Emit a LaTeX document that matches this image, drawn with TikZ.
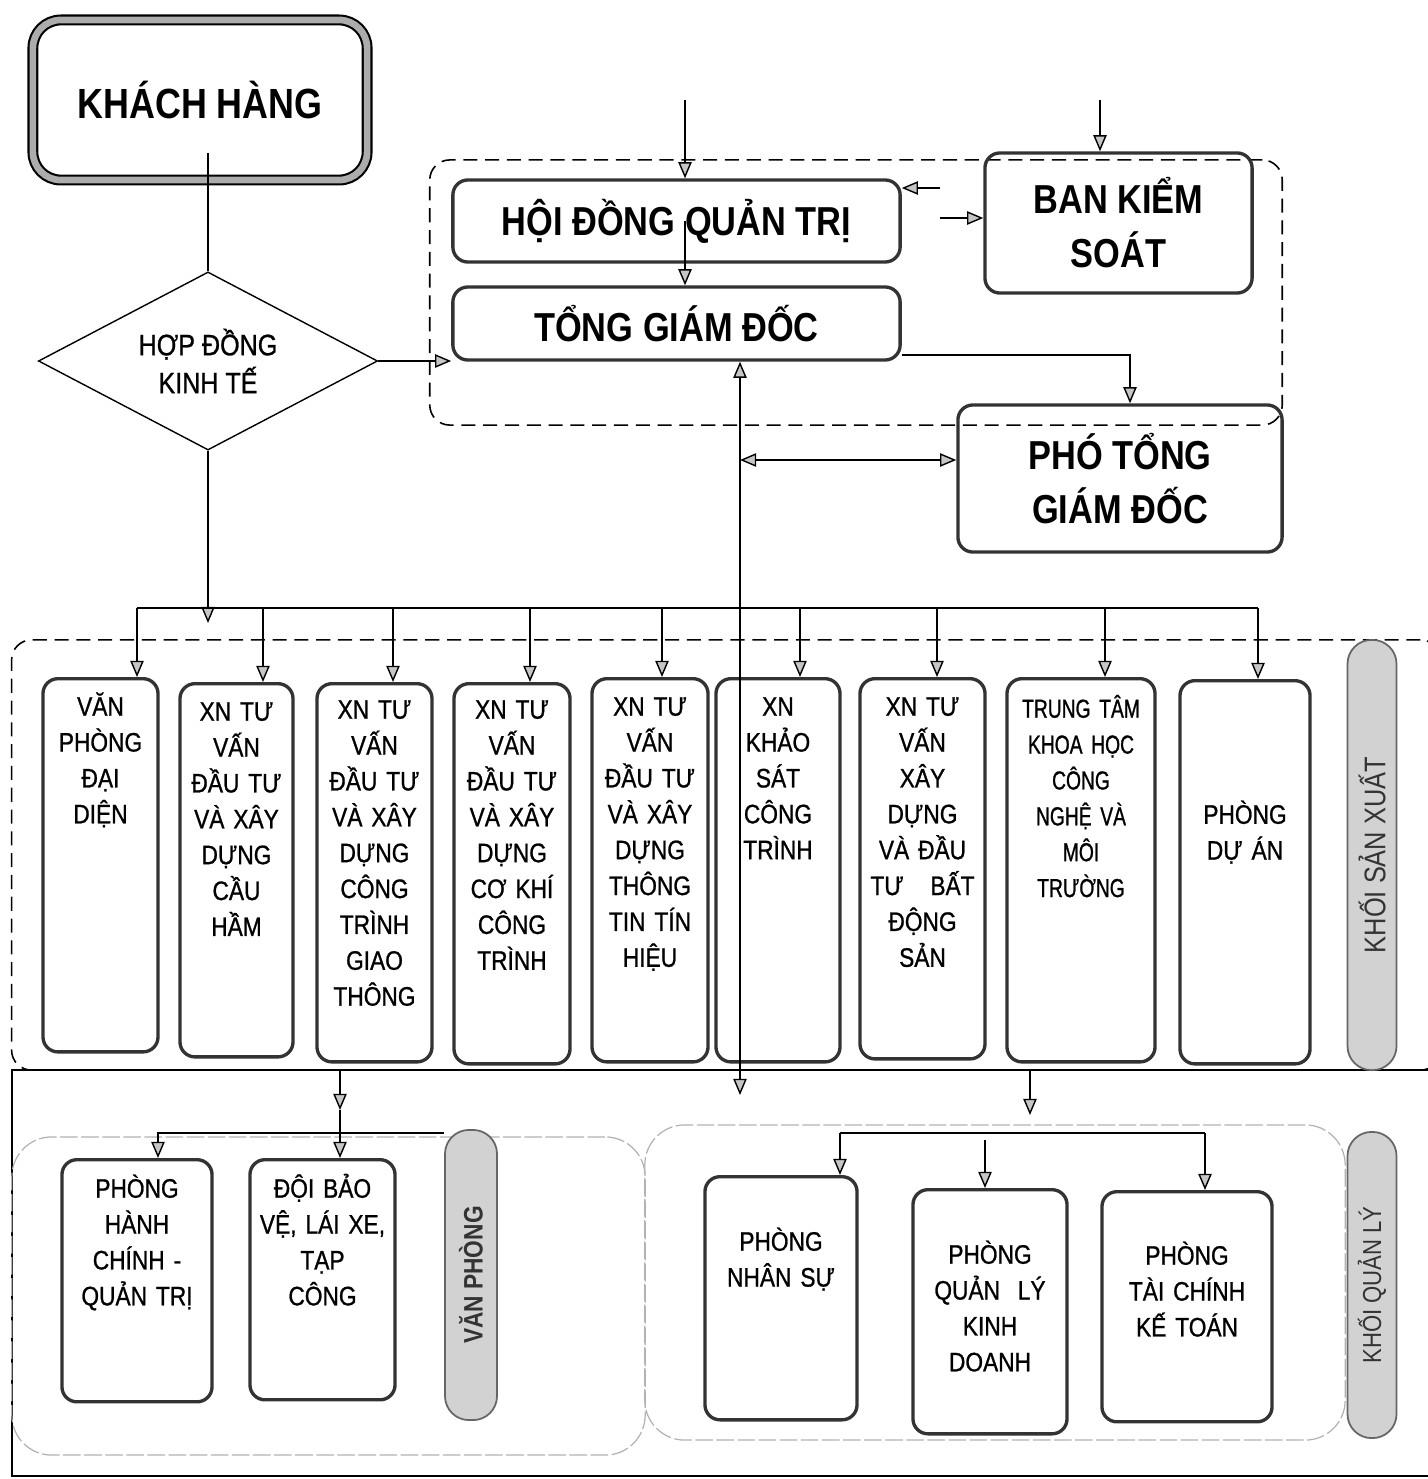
\documentclass[tikz,border=0pt]{standalone}
\usepackage{fontspec}
\setmainfont{Liberation Sans}[FakeStretch=0.85]
\newfontfamily\medfont{Liberation Sans}[FakeStretch=0.85,FakeBold=0.9]
\newfontfamily\narrowfont{Liberation Sans}[FakeStretch=0.74,FakeBold=0.9]
\usetikzlibrary{shapes.geometric,arrows.meta}

\begin{document}
\begin{tikzpicture}[x=0.01cm, y=-0.01cm, font=\medfont\fontsize{7.6}{10.2}\selectfont,
	>={Triangle[length=4.6pt,width=3.8pt,fill=gray!45]},
	conn/.style={line width=0.4pt},
	box/.style={draw=black!80, line width=0.95pt, rounded corners=0.15cm, inner sep=0pt, align=center},
	col/.style={box, anchor=north, text height=0.37cm},
	bigtxt/.style={font=\fontsize{11.5}{15.4}\selectfont\bfseries},
	dashbox/.style={draw, line width=0.45pt, dash pattern=on 4pt off 2.2pt, rounded corners=0.2cm, inner sep=0pt},
	groupbox/.style={draw=gray!60, line width=0.35pt, dash pattern=on 5pt off 1pt, rounded corners=0.4cm, inner sep=0pt},
	pill/.style={draw=black!60, fill=gray!35, line width=0.5pt, rounded corners=0.24cm, inner sep=0pt, rotate=90, text=black!80}]
	\useasboundingbox (0,0) rectangle (1427,1479);
	%groups
	\node[dashbox, minimum width=8.52cm, minimum height=2.65cm] (top grp) at (856,292.5) {};
	\node[dashbox, minimum width=14.28cm, minimum height=4.30cm] (sx) at (726,855) {};
	\draw[conn] (12,1070) rectangle (1440,1476);
	\node[groupbox, minimum width=6.33cm, minimum height=3.18cm] (vp grp) at (328.5,1296) {};
	\node[groupbox, minimum width=7.00cm, minimum height=3.15cm] (ql grp) at (995,1282.5) {};
	%top boxes
	\node[draw=black, double=gray!65, double distance=1.9pt, line width=0.6pt, rounded corners=0.28cm,
	minimum width=3.34cm, minimum height=1.60cm, font=\fontsize{12}{14}\selectfont\bfseries] (kh) at (200,100) {KHÁCH HÀNG};
	\node[diamond, draw, line width=0.4pt, shape aspect=1.9, minimum width=3.39cm, minimum height=1.78cm,
	inner sep=0pt, align=center, font=\medfont\fontsize{8.4}{10.8}\selectfont] (dia) at (208,361) {HỢP ĐỒNG\\KINH TẾ};
	\node[box, bigtxt, minimum width=4.47cm, minimum height=0.82cm] (hdqt) at (676.5,221) {HỘI ĐỒNG QUẢN TRỊ};
	\node[box, bigtxt, minimum width=4.47cm, minimum height=0.73cm] (tgd) at (676.5,323.5) {TỔNG GIÁM ĐỐC};
	\node[box, bigtxt, minimum width=2.67cm, minimum height=1.40cm] (bks) at (1118.5,223) {BAN KIỂM\\SOÁT};
	\node[box, bigtxt, minimum width=3.24cm, minimum height=1.47cm] (ptgd) at (1120,478.5) {PHÓ TỔNG\\GIÁM ĐỐC};
	%production
	\node[col, text width=1.15cm, text depth=3.36cm] (c1) at (100.5,677) {VĂN\\PHÒNG\\ĐẠI\\DIỆN};
	\node[col, text width=1.13cm, text depth=3.36cm] (c2) at (236.5,682) {XN TƯ\\VẤN\\ĐẦU TƯ\\VÀ XÂY\\DỰNG\\CẦU\\HẦM};
	\node[col, text width=1.15cm, text height=0.35cm, text depth=3.43cm] (c3) at (374.5,682) {XN TƯ\\VẤN\\ĐẦU TƯ\\VÀ XÂY\\DỰNG\\CÔNG\\TRÌNH\\GIAO\\THÔNG};
	\node[col, text width=1.16cm, text height=0.35cm, text depth=3.45cm] (c4) at (512,682) {XN TƯ\\VẤN\\ĐẦU TƯ\\VÀ XÂY\\DỰNG\\CƠ KHÍ\\CÔNG\\TRÌNH};
	\node[col, text width=1.16cm, text depth=3.46cm] (c5) at (650,677) {XN TƯ\\VẤN\\ĐẦU TƯ\\VÀ XÂY\\DỰNG\\THÔNG\\TIN TÍN\\HIỆU};
	\node[col, text width=1.24cm, text depth=3.46cm] (c6) at (778,677) {XN\\KHẢO\\SÁT\\CÔNG\\TRÌNH};
	\node[col, text width=1.25cm, text depth=3.43cm] (c7) at (922.5,677) {XN TƯ\\VẤN\\XÂY\\DỰNG\\VÀ ĐẦU\\TƯ~~~BẤT\\ĐỘNG\\SẢN};
	\node[col, text width=1.48cm, text height=0.39cm, text depth=3.44cm, font=\narrowfont\fontsize{7.4}{10.2}\selectfont] (c8) at (1081,677) {TRUNG TÂM\\KHOA HỌC\\CÔNG\\NGHỆ VÀ\\MÔI\\TRƯỜNG};
	\node[col, text width=1.30cm, text height=1.43cm, text depth=2.40cm] (c9) at (1245,679) {PHÒNG\\DỰ ÁN};
	\node[pill, minimum width=4.30cm, minimum height=0.49cm, font=\fontsize{8.5}{10}\selectfont] (sx pill) at (1372,855) {KHỐI SẢN XUẤT};
	%office
	\node[col, text width=1.50cm, text height=0.38cm, text depth=2.04cm] (hc) at (137,1158) {PHÒNG\\HÀNH\\CHÍNH -\\QUẢN TRỊ};
	\node[col, text width=1.45cm, text height=0.38cm, text depth=2.02cm] (dbv) at (322.5,1158) {ĐỘI BẢO\\VỆ, LÁI XE,\\TẠP\\CÔNG};
	\node[pill, minimum width=2.90cm, minimum height=0.52cm, font=\fontsize{7.6}{10}\selectfont\bfseries] (vp pill) at (471,1275) {VĂN PHÒNG};
	%management
	\node[col, text width=1.52cm, text height=0.74cm, text depth=1.69cm] (ns) at (781,1175) {PHÒNG\\NHÂN SỰ};
	\node[col, text width=1.54cm, text height=0.74cm, text depth=1.70cm] (kd) at (990,1188) {PHÒNG\\QUẢN~~LÝ\\KINH\\DOANH};
	\node[col, text width=1.70cm, text height=0.73cm, text depth=1.57cm] (tc) at (1187,1190) {PHÒNG\\TÀI CHÍNH\\KẾ TOÁN};
	\node[pill, minimum width=3.06cm, minimum height=0.49cm, font=\fontsize{7.4}{10}\selectfont] (ql pill) at (1372,1285) {KHỐI QUẢN LÝ};
	%arrows top
	\coordinate (kh stub) at (208,153);
	\coordinate (hd in) at (685,100);
	\coordinate (bks in) at (1100,100);
	\coordinate (bks out) at (940,188);
	\coordinate (hd out) at (940,218);
	\coordinate (pt in) at (1130,355);
	\coordinate (pt link) at (740,460);
	\coordinate (ql in) at (740,1095);
	\draw[conn] (kh stub) -- (dia.north);
	\draw[conn,->] (dia.east) -- (dia.east -| tgd.west);
	\draw[conn,->] (hd in) -- (hd in |- hdqt.north);
	\draw[conn,->] (bks in) -- (bks in |- bks.north);
	\draw[conn,->] (hdqt.center -| hd in) -- (tgd.north -| hd in);
	\draw[conn,->] (bks out) -- (bks out -| hdqt.east);
	\draw[conn,->] (hd out) -- (hd out -| bks.west);
	\draw[conn,->] (pt in -| tgd.east) -- (pt in) -- (pt in |- ptgd.north);
	\draw[conn,<->] (ql in |- tgd.south) -- (ql in);
	\draw[conn,<->] (pt link) -- (pt link -| ptgd.west);
	%arrows production
	\coordinate (hd end) at (208,623);
	\coordinate (bus) at (137,608);
	\coordinate (bus end) at (1258,608);
	\draw[conn,->] (dia.south) -- (hd end);
	\draw[conn] (bus) -- (bus end);
	\foreach \n/\x in {c1/137,c2/263,c3/393,c4/530,c5/662,c6/800,c7/937,c8/1105,c9/1258}
	\draw[conn,->] (\x,0 |- bus) -- (\x,0 |- \n.north);
	%arrows office
	\coordinate (vp in) at (340,1110);
	\coordinate (vp bus) at (158,1133);
	\draw[conn,->] (vp in |- sx.south) -- (vp in);
	\draw[conn,->] (vp in) -- (vp in |- dbv.north);
	\draw[conn,->] (vp bus -| vp pill.north) -- (vp bus) -- (vp bus |- hc.north);
	%arrows management
	\coordinate (ql mid) at (1030,1115);
	\coordinate (ql bus) at (840,1133);
	\coordinate (ql bus end) at (1205,1133);
	\coordinate (kd in) at (985,1140);
	\draw[conn,->] (ql mid |- sx.south) -- (ql mid);
	\draw[conn] (ql bus) -- (ql bus end);
	\draw[conn,->] (ql bus) -- (ql bus |- ns.north);
	\draw[conn,->] (ql bus end) -- (ql bus end |- tc.north);
	\draw[conn,->] (kd in) -- (kd in |- kd.north);
\end{tikzpicture}
\end{document}
